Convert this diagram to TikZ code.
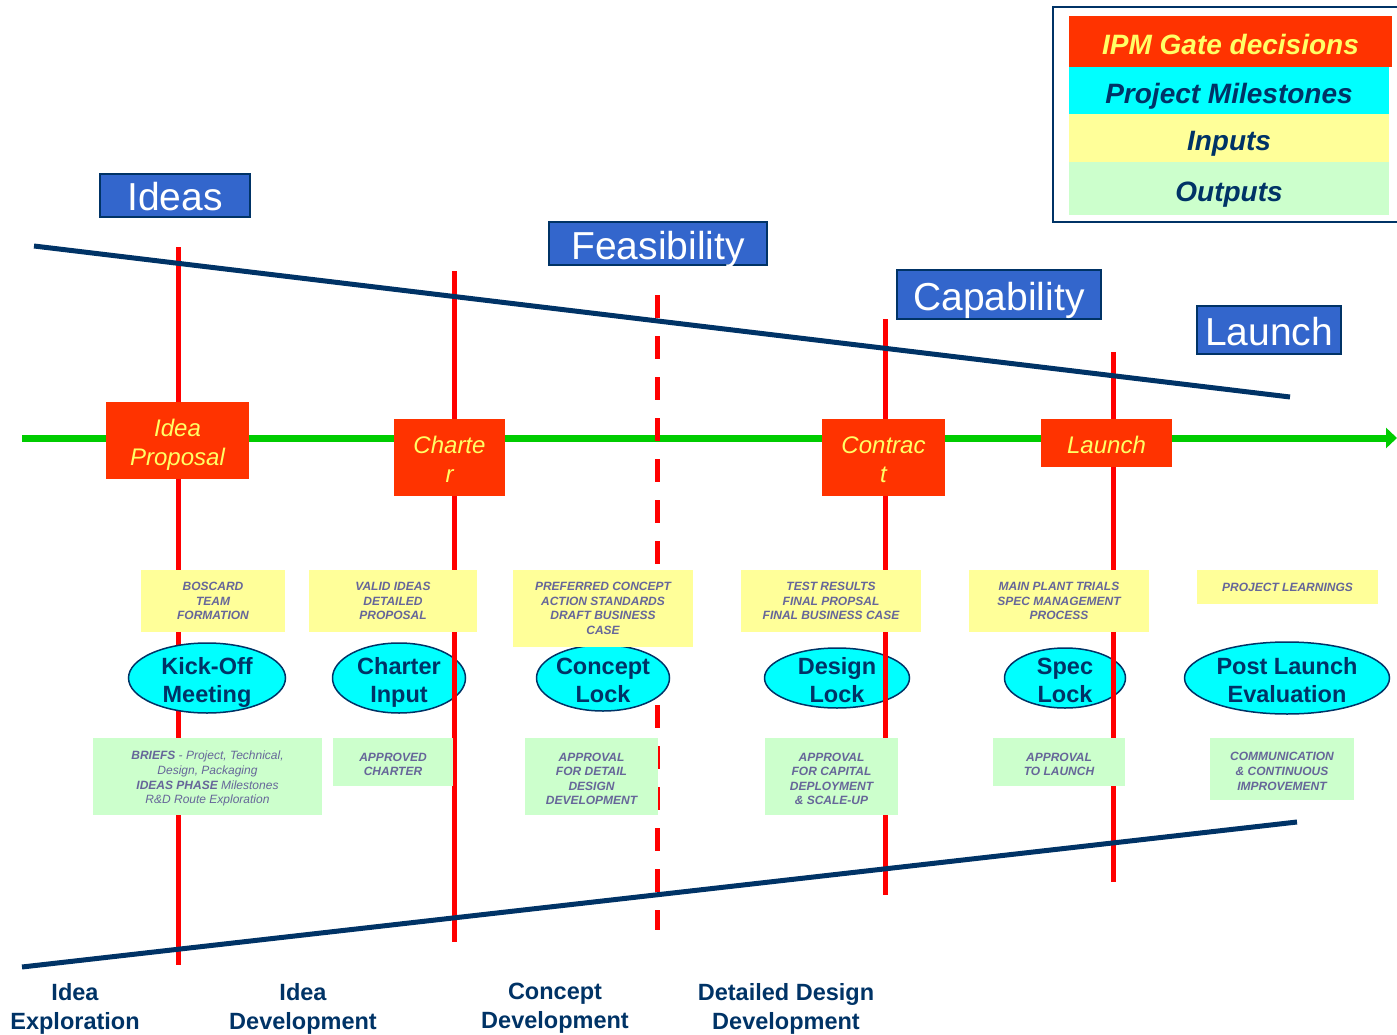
\documentclass[tikz,border=0pt]{standalone}
\usepackage{fontspec}
\setmainfont{Liberation Sans}
\usetikzlibrary{arrows.meta,shapes.geometric}
\definecolor{gateRed}{RGB}{255,51,0}
\definecolor{lineRed}{RGB}{255,0,0}
\definecolor{navyBlue}{RGB}{0,51,102}
\definecolor{stageBlue}{RGB}{51,102,204}
\definecolor{flowGreen}{RGB}{0,204,0}
\definecolor{inYellow}{RGB}{255,255,153}
\definecolor{outGreen}{RGB}{204,255,204}
\definecolor{textYellow}{RGB}{255,255,102}
\definecolor{textGray}{RGB}{102,102,153}
\definecolor{msCyan}{RGB}{0,255,255}
\newcommand{\bigstrut}{\rule{0pt}{25.5pt}}
\newcommand{\midstrut}{\rule{0pt}{21.5pt}}
\newcommand{\smallstrut}{\rule{0pt}{13pt}}
\tikzset{
  stage/.style={draw=navyBlue, line width=1.5pt, fill=stageBlue, text=white, inner sep=0pt,
                text height=31pt, text depth=0pt, font=\fontsize{39}{44}\selectfont},
  gate/.style={fill=gateRed, text=textYellow, align=center, inner sep=0pt,
               font=\fontsize{24}{29}\selectfont\itshape},
  inbox/.style={fill=inYellow, text=textGray, align=center, inner sep=0pt,
                font=\fontsize{12}{14.6}\selectfont\bfseries\itshape},
  outbox/.style={inbox, fill=outGreen},
  milestone/.style={ellipse, draw=navyBlue, line width=1.5pt, fill=msCyan, inner sep=0pt},
  mslabel/.style={align=center, text=navyBlue, inner sep=0pt, yshift=-4pt,
                  font=\fontsize{23.5}{28}\selectfont\bfseries},
  phase/.style={text=navyBlue, align=center, inner sep=0pt, font=\fontsize{23.5}{29}\selectfont\bfseries},
  legend/.style={inner sep=0pt, minimum width=320, text=navyBlue, text height=26pt, text depth=0pt,
                 font=\fontsize{28}{32}\selectfont\bfseries\itshape},
  redline/.style={draw=lineRed, line width=5},
  edgeline/.style={draw=navyBlue, line width=5},
  flow/.style={draw=flowGreen, line width=7, -{Triangle[length=11pt,width=20pt]}}
}
\begin{document}
\begin{tikzpicture}[x=1pt, y=-1pt]
\useasboundingbox (0,0) rectangle (1397,1035);
\coordinate (flowStart) at (22,438);
\coordinate (flowEnd) at (1397,438);
\draw[flow] (flowStart) -- (flowEnd);
\node[milestone, minimum width=133, minimum height=70, label={[mslabel]center:Charter\\Input}] (msCharter) at (399,678) {};
\node[milestone, minimum width=145, minimum height=60, label={[mslabel, yshift=2pt]center:Design\\Lock}] (msDesign) at (837,678) {};
\node[milestone, minimum width=121, minimum height=60, label={[mslabel, yshift=2pt]center:Spec\\Lock}] (msSpec) at (1065,678) {};
\node[milestone, minimum width=205, minimum height=72, label={[mslabel, yshift=2pt]center:Post Launch\\Evaluation}] (msPost) at (1287,678) {};
\coordinate (r1t) at (178,247); \coordinate (r1b) at (178,965);
\coordinate (r2t) at (454,271); \coordinate (r2b) at (454,942);
\coordinate (r3t) at (657,295); \coordinate (r3b) at (657,930);
\coordinate (r4t) at (885,319); \coordinate (r4b) at (885,895);
\coordinate (r5t) at (1113,352); \coordinate (r5b) at (1113,882);
\draw[redline] (r1t) -- (r1b);
\draw[redline] (r2t) -- (r2b);
\draw[redline, dash pattern=on 23pt off 18pt] (r3t) -- (r3b);
\draw[redline] (r4t) -- (r4b);
\draw[redline] (r5t) -- (r5b);
\coordinate (topL) at (34,246); \coordinate (topR) at (1290,397);
\coordinate (botL) at (22,967); \coordinate (botR) at (1297,822);
\draw[edgeline] (topL) -- (topR);
\draw[edgeline] (botL) -- (botR);
\node[milestone, minimum width=157, minimum height=70, label={[mslabel]center:Kick-Off\\Meeting}] (msKick) at (207,678) {};
\node[milestone, minimum width=133, minimum height=66, label={[mslabel, yshift=2pt]center:Concept\\Lock}] (msConcept) at (603,678) {};
\node[gate, minimum width=143, minimum height=77] (gIdea) at (177.5,440.5) {\bigstrut Idea\\Proposal};
\node[gate, minimum width=111, minimum height=77] (gCharter) at (449.5,457.5) {\midstrut Charte\\r};
\node[gate, minimum width=123, minimum height=77] (gContract) at (883.5,457.5) {\midstrut Contrac\\t};
\node[gate, minimum width=131, minimum height=48, text height=21.5pt] (gLaunch) at (1106.5,443) {Launch};
\node[inbox, minimum width=144, minimum height=62] (inKick) at (213,601) {BOSCARD\\TEAM\\FORMATION};
\node[inbox, minimum width=168, minimum height=62] (inCharter) at (393,601) {VALID IDEAS\\DETAILED\\PROPOSAL};
\node[inbox, minimum width=180, minimum height=77] (inConcept) at (603,608.5) {PREFERRED CONCEPT\\ACTION STANDARDS\\DRAFT BUSINESS\\CASE};
\node[inbox, minimum width=180, minimum height=62] (inDesign) at (831,601) {TEST RESULTS\\FINAL PROPSAL\\FINAL BUSINESS CASE};
\node[inbox, minimum width=180, minimum height=62] (inSpec) at (1059,601) {MAIN PLANT TRIALS\\SPEC MANAGEMENT\\PROCESS};
\node[inbox, minimum width=181, minimum height=34] (inPost) at (1287.5,587) {PROJECT LEARNINGS};
\node[outbox, minimum width=229, minimum height=77, font=\fontsize{12}{14.6}\selectfont\itshape] (outKick) at (207.5,776.5)
  {\smallstrut\textbf{BRIEFS} - Project, Technical,\\Design, Packaging\\\textbf{IDEAS PHASE} Milestones\\R\&D Route Exploration};
\node[outbox, minimum width=120, minimum height=48] (outCharter) at (393,762) {\smallstrut APPROVED\\CHARTER};
\node[outbox, minimum width=133, minimum height=77] (outConcept) at (591.5,776.5) {\smallstrut APPROVAL\\FOR DETAIL\\DESIGN\\DEVELOPMENT};
\node[outbox, minimum width=133, minimum height=77] (outDesign) at (831.5,776.5) {\smallstrut APPROVAL\\FOR CAPITAL\\DEPLOYMENT\\\& SCALE-UP};
\node[outbox, minimum width=132, minimum height=48] (outSpec) at (1059,762) {\smallstrut APPROVAL\\TO LAUNCH};
\node[outbox, minimum width=144, minimum height=62] (outPost) at (1282,769) {\smallstrut COMMUNICATION\\\& CONTINUOUS\\IMPROVEMENT};
\node[stage, minimum width=150, minimum height=43] (stIdeas) at (175,195.5) {Ideas};
\node[stage, minimum width=218, minimum height=43] (stFeas) at (658,243.5) {Feasibility};
\node[stage, minimum width=204, minimum height=49] (stCap) at (999,294.5) {Capability};
\node[stage, minimum width=144, minimum height=48] (stLaunch) at (1269,330) {Launch};
\node[phase] (phIdeaExp) at (75,1008.5) {Idea\\Exploration};
\node[phase] (phIdeaDev) at (303,1008.5) {Idea\\Development};
\node[phase] (phConcept) at (555,1008.5) {Concept\\Development};
\node[phase] (phDetail) at (786,1008.5) {Detailed Design\\Development};
\draw[draw=navyBlue, line width=2] (1053,7) rectangle (1410,222);
\node[legend, fill=gateRed, text=textYellow, minimum width=323, minimum height=51] (legGate) at (1230.5,41.5) {IPM Gate decisions};
\node[legend, fill=msCyan, minimum height=47] (legMile) at (1229,90.5) {Project Milestones};
\node[legend, fill=inYellow, minimum height=48] (legIn) at (1229,138) {Inputs};
\node[legend, fill=outGreen, minimum height=53] (legOut) at (1229,188.5) {Outputs};
\end{tikzpicture}
\end{document}
